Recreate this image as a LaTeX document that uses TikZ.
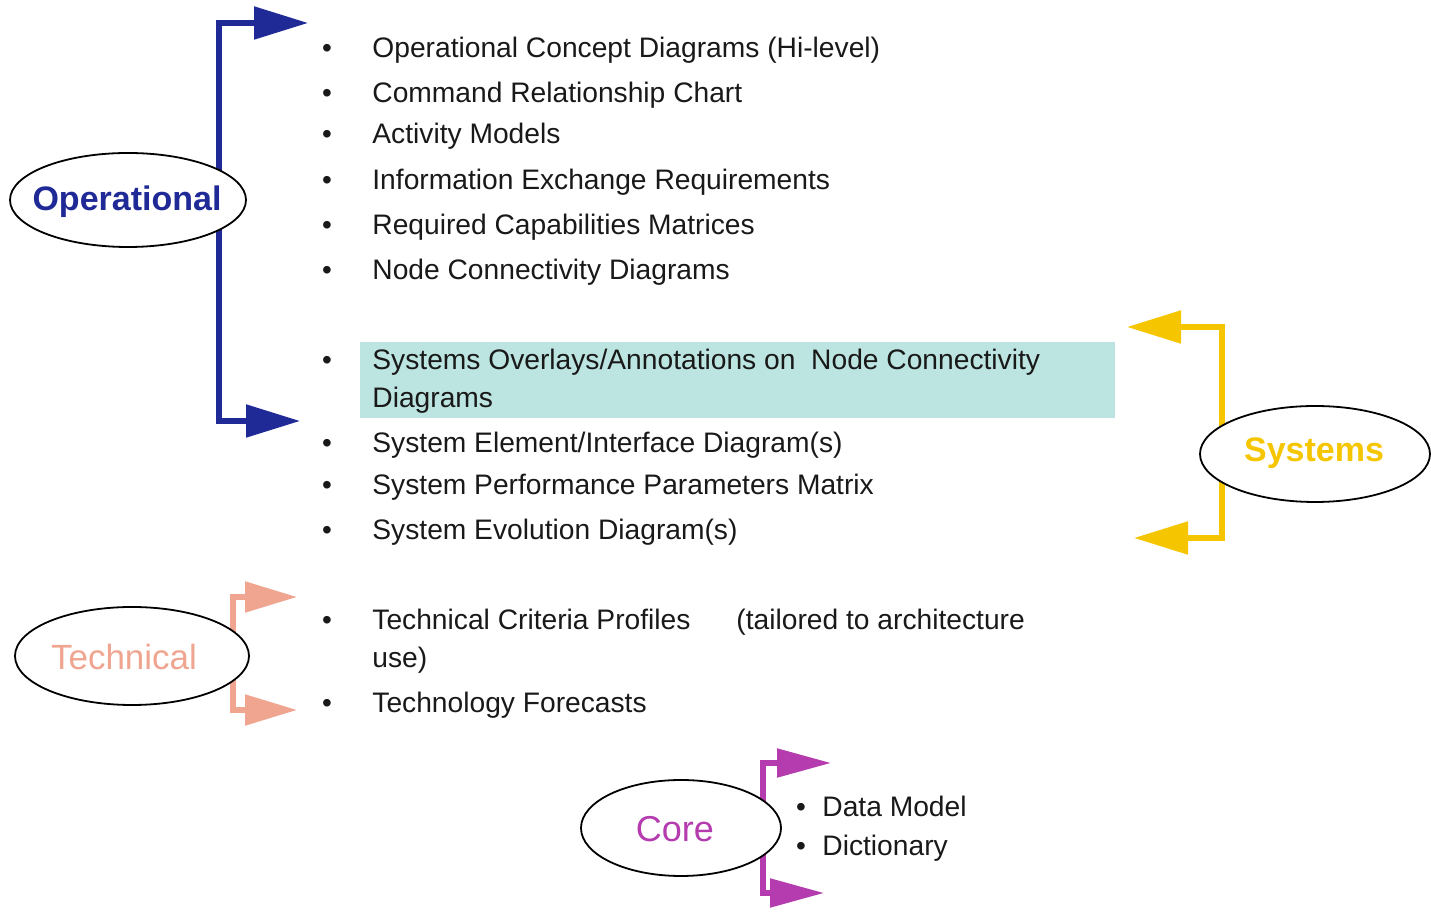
\documentclass[tikz,border=0pt]{standalone}
\usepackage{fontspec}
\setmainfont{Liberation Sans}
\usetikzlibrary{arrows.meta,shapes.geometric}
\definecolor{opblue}{RGB}{32,42,150}
\definecolor{sysyellow}{RGB}{245,198,0}
\definecolor{techsalmon}{RGB}{240,165,145}
\definecolor{coremag}{RGB}{180,60,175}
\definecolor{hlcyan}{RGB}{188,228,224}
\definecolor{txt}{RGB}{25,25,25}
\begin{document}
\begin{tikzpicture}[x=0.5pt,y=-0.5pt,
  item/.style={anchor=base west, font=\fontsize{14.1}{16}\selectfont, text=txt, inner sep=0pt},
  bul/.style={anchor=base, font=\fontsize{14}{16}\selectfont, text=txt, inner sep=0pt},
  oval/.style={ellipse, draw=black, line width=0.9pt, fill=white, inner sep=0pt},
  bracket/.style={line width=2.6pt, line join=miter},
  tip/.style={{Triangle[length=27pt,width=16pt]}-{Triangle[length=27pt,width=16pt]}}
]
\useasboundingbox (0,0) rectangle (1431,913);

% highlight
\fill[hlcyan] (360,342) rectangle (1115,418);

% bracket corners and tips
\coordinate (opT) at (308,23);  \coordinate (opC1) at (219,23);
\coordinate (opC2) at (219,421); \coordinate (opB) at (300,421);
\coordinate (syT) at (1127,327); \coordinate (syC1) at (1222,327);
\coordinate (syC2) at (1222,538); \coordinate (syB) at (1134,538);
\coordinate (teT) at (297,597); \coordinate (teC1) at (233,597);
\coordinate (teC2) at (233,710); \coordinate (teB) at (297,710);
\coordinate (coT) at (831,763); \coordinate (coC1) at (763,763);
\coordinate (coC2) at (763,893); \coordinate (coB) at (824,893);

\draw[bracket, opblue, tip] (opT) -- (opC1) -- (opC2) -- (opB);
\draw[bracket, sysyellow, tip] (syT) -- (syC1) -- (syC2) -- (syB);
\draw[bracket, techsalmon, {Triangle[length=26pt,width=15pt]}-{Triangle[length=26pt,width=15pt]}] (teT) -- (teC1) -- (teC2) -- (teB);
\draw[bracket, coremag, {Triangle[length=27pt,width=14pt]}-{Triangle[length=27pt,width=14pt]}] (coT) -- (coC1) -- (coC2) -- (coB);

% ellipses
\node[oval, minimum width=118pt, minimum height=47pt] (op) at (128,200) {};
\node[oval, minimum width=115pt, minimum height=48pt] (sys) at (1315,454) {};
\node[oval, minimum width=117pt, minimum height=49pt] (tech) at (132,656) {};
\node[oval, minimum width=100pt, minimum height=48pt] (core) at (681,828) {};

% ellipse labels
\node[text=opblue, font=\fontsize{17}{20}\selectfont\bfseries, inner sep=0pt] (opL) at (127,202) {Operational};
\node[text=sysyellow, font=\fontsize{17}{20}\selectfont\bfseries, inner sep=0pt] (sysL) at (1314,453) {Systems};
\node[text=techsalmon, font=\fontsize{17.5}{20}\selectfont, inner sep=0pt] (techL) at (124,657) {Technical};
\node[text=coremag, font=\fontsize{18}{20}\selectfont, inner sep=0pt] (coreL) at (675,829) {Core};

% operational items
\node[bul] (b1) at (327,58) {•};  \node[item] (i1) at (372,58) {Operational Concept Diagrams (Hi-level)};
\node[bul] (b2) at (327,103) {•}; \node[item] (i2) at (372,103) {Command Relationship Chart};
\node[bul] (b3) at (327,144) {•}; \node[item] (i3) at (372,144) {Activity Models};
\node[bul] (b4) at (327,190) {•}; \node[item] (i4) at (372,190) {Information Exchange Requirements};
\node[bul] (b5) at (327,235) {•}; \node[item] (i5) at (372,235) {Required Capabilities Matrices};
\node[bul] (b6) at (327,280) {•}; \node[item] (i6) at (372,280) {Node Connectivity Diagrams};

% systems items
\node[bul] (b7) at (327,370) {•}; \node[item] (i7) at (372,370) {Systems Overlays/Annotations on\ \ Node Connectivity};
\node[item] (i7b) at (372,408) {Diagrams};
\node[bul] (b8) at (327,453) {•}; \node[item] (i8) at (372,453) {System Element/Interface Diagram(s)};
\node[bul] (b9) at (327,495) {•}; \node[item] (i9) at (372,495) {System Performance Parameters Matrix};
\node[bul] (b10) at (327,540) {•}; \node[item] (i10) at (372,540) {System Evolution Diagram(s)};

% technical items
\node[bul] (b11) at (327,630) {•}; \node[item] (i11) at (372,630) {Technical Criteria Profiles};
\node[item] (i11b) at (736,630) {(tailored to architecture};
\node[item] (i11c) at (372,668) {use)};
\node[bul] (b12) at (327,713) {•}; \node[item] (i12) at (372,713) {Technology Forecasts};

% core items
\node[bul] (b13) at (801,817) {•}; \node[item] (i13) at (822,817) {Data Model};
\node[bul] (b14) at (801,856) {•}; \node[item] (i14) at (822,856) {Dictionary};
\end{tikzpicture}
\end{document}
